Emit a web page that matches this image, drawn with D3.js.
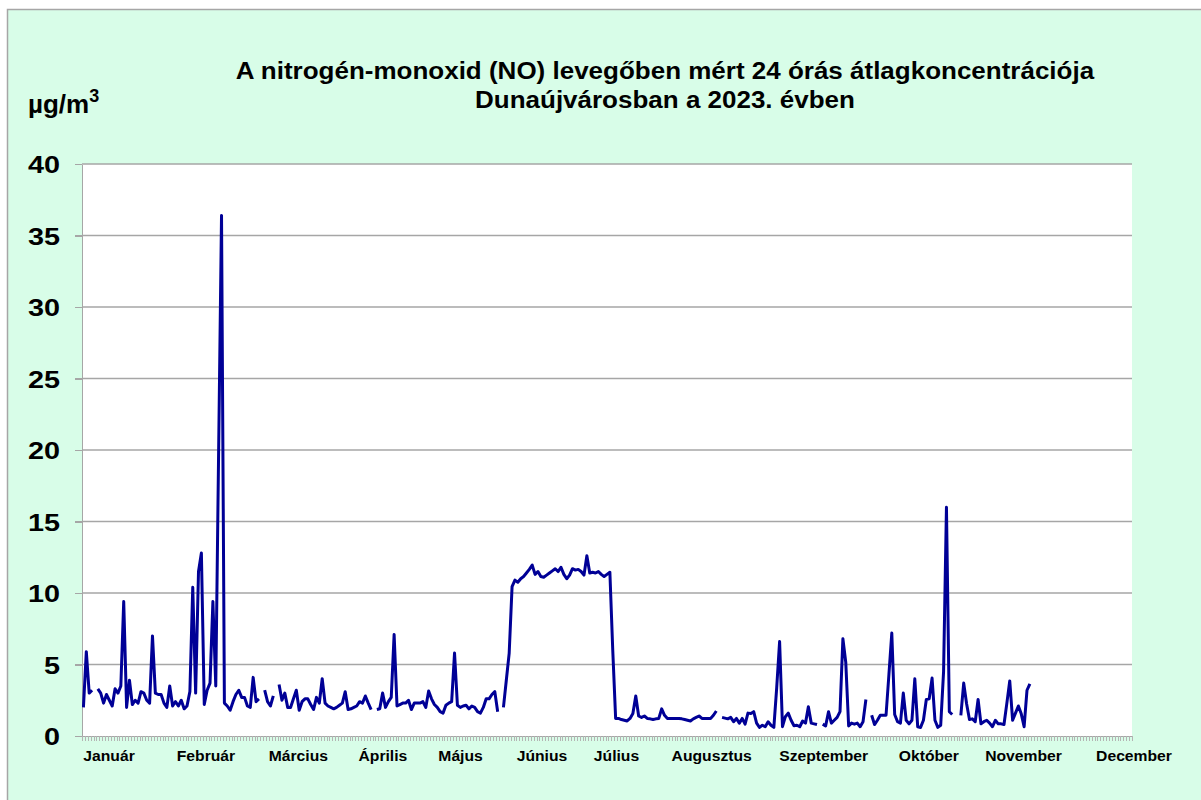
<!DOCTYPE html>
<html lang="hu">
<head>
<meta charset="UTF-8">
<title>NO 24 órás átlagkoncentráció</title>
<style>
  body{margin:0;background:#fff;font-family:"Liberation Sans",Arial,sans-serif;}
  .grid line{stroke:#a6a6a6;stroke-width:1.5;}
  .axis path,.axis line{fill:none;stroke:#a6a6a6;stroke-width:1.5;shape-rendering:crispEdges;}
  .y.axis text{font-size:24px;font-weight:bold;fill:#000;font-family:"Liberation Sans",Arial,sans-serif;}
  .title{font-size:23px;font-weight:bold;text-anchor:middle;}
  .month{font-size:14px;font-weight:bold;text-anchor:middle;}
  .no-line{fill:none;stroke:#000096;stroke-width:3;stroke-linejoin:round;}
</style>
</head>
<body>
<script src="https://cdn.jsdelivr.net/npm/d3@7/dist/d3.min.js"></script>
<script>
// napi átlagok (µg/m3), null = hiányzó adat
var jan = [2.0,5.9,3.0,3.2,null,3.3,3.0,2.3,2.9,2.5,2.1,3.3,3.0,3.5,9.4,2.0,3.9,2.2,2.5,2.3,3.1,3.0,2.5,2.3,7.0,3.0,2.9,2.9,2.3,2.0,3.5];
var feb = [2.1,2.4,2.1,2.5,1.9,2.1,3.1,10.4,3.0,11.5,12.8,2.2,3.2,3.7,9.4,3.5,20.0,36.4,2.3,2.1,1.8,2.4,2.9,3.2,2.7,2.7,2.1,2.0];
var mar = [4.1,2.4,2.6,null,3.2,2.4,2.1,2.8,null,3.6,2.5,3.0,2.0,2.0,2.6,3.2,1.8,2.4,2.6,2.6,2.2,1.85,2.7,2.3,4.0,2.3,2.1,2.0,1.9,2.0,2.15];
var apr = [2.3,3.1,1.85,1.9,2.0,2.1,2.4,2.3,2.8,2.3,1.85,null,1.85,1.9,3.0,2.0,2.4,2.7,7.1,2.1,2.2,2.3,2.3,2.5,1.85,2.3,2.3,2.3,2.4,2.0];
var may = [3.15,2.6,2.2,2.0,1.7,1.6,2.15,2.3,2.4,5.8,2.15,2.0,2.1,2.15,1.9,2.1,2.0,1.7,1.6,2.0,2.6,2.6,2.9,3.1,1.7,null,2.0,3.9,5.8,10.45,10.9];
var jun = [10.75,11.0,11.15,11.4,11.65,11.95,11.3,11.5,11.15,11.1,11.25,11.4,11.55,11.7,11.5,11.8,11.3,11.0,11.25,11.7,11.6,11.65,11.5,11.25,12.6,11.4,11.45,11.4,11.5,11.3];
var jul = [11.15,11.3,11.45,6.0,1.23,1.23,1.15,1.1,1.05,1.23,1.57,2.8,1.4,1.3,1.4,1.23,1.2,1.15,1.2,1.23,1.9,1.45,1.23,1.23,1.23,1.23,1.23,1.2,1.15,1.1,1.05];
var aug = [1.2,1.3,1.4,1.23,1.23,1.23,1.23,1.45,1.75,null,1.3,1.25,1.2,1.3,1.0,1.23,0.9,1.23,0.83,1.6,1.57,1.7,0.9,0.6,0.75,0.65,1.0,0.75,0.6,3.4,6.6];
var sep = [0.65,1.35,1.6,1.1,0.72,0.75,0.65,1.05,0.9,2.05,0.9,0.85,0.8,null,0.83,0.7,1.7,0.9,1.1,1.3,1.7,6.8,5.15,0.7,0.9,0.83,0.9,0.65,1.0,2.55];
var oct = [null,1.45,0.8,1.1,1.45,1.45,1.45,4.3,7.2,1.5,1.0,0.9,3.0,1.1,0.85,1.1,4.0,0.65,0.6,1.1,2.55,2.6,4.05,1.1,0.6,0.75,4.5,16.0,1.7,1.5,null];
var nov = [null,1.45,3.7,2.25,1.15,1.2,1.0,2.55,0.85,1.0,1.1,0.9,0.65,1.1,0.85,0.85,0.8,2.3,3.85,1.1,1.6,2.1,1.55,0.65,3.2,3.65];

var months = ["Január","Február","Március","Április","Május","Június","Július","Augusztus","Szeptember","Október","November","December"];
// a hónapnevek helye az év napjaiban
var monthLabelDay = [9.4,43.1,75.2,104.6,131.6,159.9,185.8,218.9,257.8,294.4,327.3,365.7];
var yTicks = [0,5,10,15,20,25,30,35,40];
var titleLines = ["A nitrogén-monoxid (NO) levegőben mért 24 órás átlagkoncentrációja","Dunaújvárosban a 2023. évben"];

var values = [].concat(jan,feb,mar,apr,may,jun,jul,aug,sep,oct,nov);
var data = values.map(function(v,i){return {day:i,value:v};});

var W = 1201, H = 800;
var margin = {top:164,left:82,right:69,bottom:64};

// a feliratok kissé szélesebbek az eredetin
function stretch(sel,k){
  sel.each(function(){
    var w = this.getComputedTextLength();
    d3.select(this).attr("textLength",w*k).attr("lengthAdjust","spacingAndGlyphs");
  });
}

var svg = d3.select("body").append("svg")
  .attr("width",W).attr("height",H);

// háttér
svg.append("rect").attr("width",W).attr("height",H).attr("fill","#fff");
svg.append("rect")
  .attr("x",7.5).attr("y",9.5).attr("width",W).attr("height",H)
  .attr("fill","#d8fde8").attr("stroke","#a6a6a6").attr("stroke-width",1.5);

var x = d3.scaleLinear().domain([0,365]).range([margin.left,W-margin.right]);
var y = d3.scaleLinear().domain([0,40]).range([H-margin.bottom,margin.top]);

svg.append("rect")
  .attr("x",x(0)).attr("y",y(40))
  .attr("width",x(365)-x(0)).attr("height",y(0)-y(40))
  .attr("fill","#fff");

// rácsvonalak
svg.append("g").attr("class","grid")
  .selectAll("line").data(yTicks.filter(function(d){return d>0;}))
  .enter().append("line")
  .attr("x1",x(0)).attr("x2",x(365))
  .attr("y1",function(d){return y(d);}).attr("y2",function(d){return y(d);});

// y tengely
var yText = svg.append("g").attr("class","y axis")
  .attr("transform","translate("+x(0)+",0)")
  .call(d3.axisLeft(y).tickValues(yTicks).tickSize(7).tickSizeOuter(0).tickPadding(15))
  .selectAll("text").attr("dy","0.36em");
stretch(yText,1.2);

// x tengely, napi osztásokkal
svg.append("g").attr("class","x axis")
  .attr("transform","translate(0,"+y(0)+")")
  .call(d3.axisBottom(x).tickValues(d3.range(0,366)).tickSize(5).tickSizeOuter(0).tickFormat(""));
svg.selectAll(".x.axis .tick line").style("stroke-width",1).style("stroke","#b4b4b4");

// hónapnevek
var monthText = svg.append("g").selectAll("text").data(months)
  .enter().append("text")
  .attr("class","month")
  .attr("x",function(d,i){return x(monthLabelDay[i]);})
  .attr("y",761)
  .text(function(d){return d;});
stretch(monthText,1.12);

// adatsor
var line = d3.line()
  .defined(function(d){return d.value!==null;})
  .x(function(d){return x(d.day+0.5);})
  .y(function(d){return y(d.value);});

svg.append("path").datum(data).attr("class","no-line").attr("d",line);

// cím
var titleText = svg.append("g").selectAll("text").data(titleLines)
  .enter().append("text")
  .attr("class","title")
  .attr("x",665).attr("y",function(d,i){return 79+i*29;})
  .text(function(d){return d;});
stretch(titleText,1.13);

// mértékegység
var unit = svg.append("text")
  .attr("x",28).attr("y",113)
  .style("font-size","26px").style("font-weight","bold");
unit.append("tspan").text("µg/m");
unit.append("tspan").attr("dy",-11).style("font-size","18px").text("3");
</script>
</body>
</html>
